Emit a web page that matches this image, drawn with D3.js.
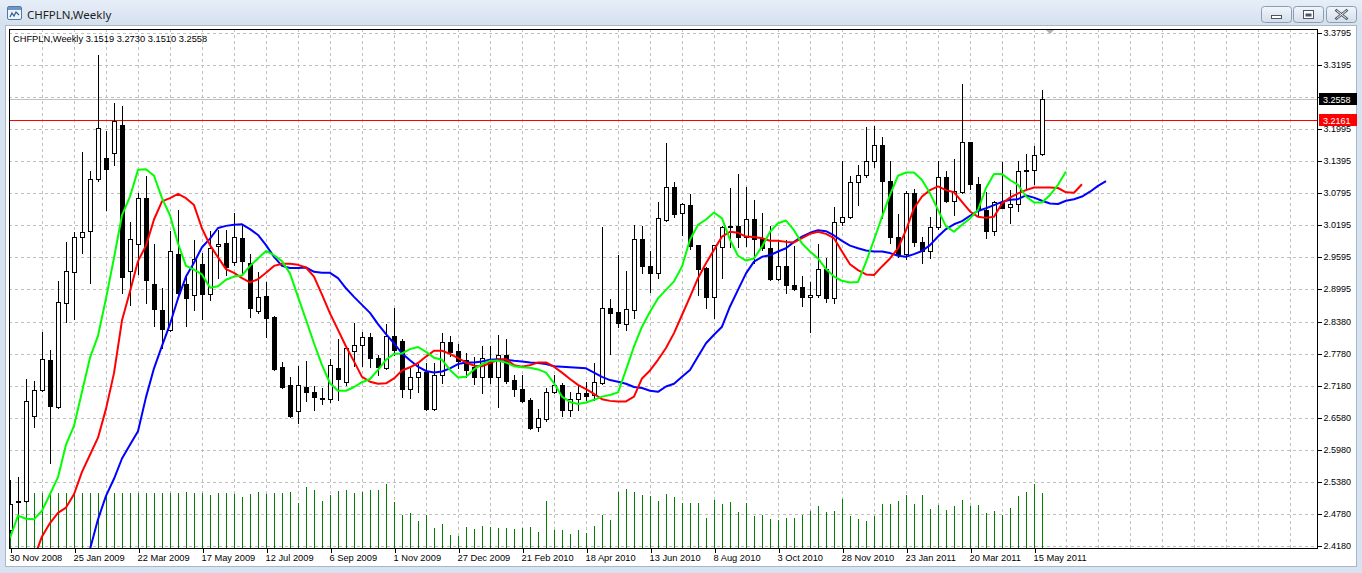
<!DOCTYPE html>
<html><head><meta charset="utf-8">
<script src="https://cdn.jsdelivr.net/npm/d3@7/dist/d3.min.js"></script>
<style>
body{margin:0;background:#d9e4f1;overflow:hidden}
svg{display:block}
text{font-family:"Liberation Sans",Arial,sans-serif}
</style>
</head><body>
<svg id="c" width="1362" height="573"></svg>
<script>
// ---------------- DATA ----------------
const symbolTitle = "CHFPLN,Weekly";
const headerValues = ["3.1519", "3.2730", "3.1510", "3.2558"];
const dateLabels = ["30 Nov 2008","25 Jan 2009","22 Mar 2009","17 May 2009","12 Jul 2009","6 Sep 2009","1 Nov 2009","27 Dec 2009","21 Feb 2010","18 Apr 2010","13 Jun 2010","8 Aug 2010","3 Oct 2010","28 Nov 2010","23 Jan 2011","20 Mar 2011","15 May 2011"];
const priceTicks = ["3.3795","3.3195","3.2595","3.1995","3.1395","3.0795","3.0195","2.9595","2.8995","2.8380","2.7780","2.7180","2.6580","2.5980","2.5380","2.4780","2.4180"];
const bidPrice = 3.2558;
const redLinePrice = 3.2161;

const open = [2.448,2.502,2.503,2.662,2.711,2.767,2.678,2.874,2.931,2.998,
3.009,3.106,3.145,3.154,3.207,2.933,2.984,3.071,2.909,2.860,
2.823,2.965,2.909,2.888,2.946,2.890,2.980,2.985,2.950,2.995,
2.948,2.859,2.886,2.848,2.753,2.720,2.671,2.716,2.707,2.695,
2.694,2.751,2.726,2.784,2.794,2.809,2.770,2.752,2.812,2.802,
2.712,2.734,2.745,2.675,2.738,2.801,2.783,2.767,2.754,2.735,
2.767,2.735,2.776,2.729,2.712,2.692,2.641,2.656,2.707,2.720,
2.672,2.693,2.705,2.701,2.724,2.864,2.856,2.834,2.860,2.994,
2.942,2.929,3.029,3.090,3.042,3.057,2.982,2.939,2.884,2.979,
3.017,3.017,2.997,3.030,2.993,2.976,2.919,2.942,2.907,2.903,
2.885,2.889,2.937,2.882,3.025,3.035,3.101,3.113,3.140,3.169,
3.103,2.998,2.965,3.079,2.987,2.970,3.015,3.109,3.065,3.082,
3.175,3.097,3.048,3.009,3.062,3.053,3.059,3.120,3.123,3.1519];
const high = [2.541,2.547,2.731,2.727,2.820,2.785,2.914,2.987,3.006,3.156,
3.121,3.338,3.196,3.249,3.242,3.025,3.080,3.112,2.984,2.901,
3.009,3.048,2.927,2.992,2.968,3.009,3.010,3.010,3.042,3.021,
2.965,2.932,2.912,2.849,2.762,2.735,2.756,2.764,2.717,2.714,
2.768,2.806,2.792,2.836,2.820,2.818,2.776,2.834,2.864,2.806,
2.751,2.759,2.761,2.761,2.817,2.812,2.797,2.779,2.773,2.792,
2.792,2.814,2.806,2.739,2.739,2.695,2.675,2.715,2.739,2.724,
2.707,2.717,2.725,2.761,3.015,2.881,2.964,2.934,3.020,3.018,
2.971,3.062,3.174,3.101,3.060,3.078,2.983,2.940,2.983,3.018,
3.089,3.115,3.090,3.067,3.042,3.017,2.992,2.992,2.980,2.924,
2.912,2.984,2.958,3.054,3.140,3.112,3.132,3.204,3.205,3.185,
3.140,3.040,3.083,3.087,2.998,3.035,3.140,3.121,3.143,3.284,
3.176,3.110,3.082,3.065,3.137,3.085,3.140,3.153,3.168,3.2730];
const low = [2.444,2.480,2.500,2.641,2.709,2.574,2.676,2.837,2.844,2.968,
2.911,3.102,3.048,3.133,2.892,2.869,2.927,2.874,2.831,2.790,
2.821,2.882,2.830,2.860,2.843,2.879,2.920,2.926,2.945,2.926,
2.848,2.855,2.810,2.747,2.714,2.659,2.649,2.689,2.673,2.684,
2.687,2.692,2.720,2.756,2.756,2.754,2.739,2.749,2.776,2.698,
2.695,2.707,2.672,2.673,2.724,2.775,2.751,2.735,2.722,2.705,
2.724,2.679,2.723,2.700,2.687,2.637,2.634,2.653,2.704,2.661,
2.662,2.672,2.692,2.692,2.722,2.777,2.828,2.823,2.845,2.930,
2.895,2.920,3.028,3.034,3.000,2.975,2.889,2.865,2.845,2.921,
2.979,2.979,2.980,2.948,2.973,2.917,2.917,2.893,2.898,2.867,
2.820,2.884,2.876,2.873,3.020,3.032,3.057,3.110,3.129,3.032,
2.985,2.960,2.956,2.981,2.948,2.958,3.013,3.063,3.038,3.079,
3.087,3.038,2.995,3.000,3.051,3.024,3.046,3.089,3.097,3.1510];
const close = [2.497,2.500,2.689,2.711,2.769,2.681,2.876,2.934,2.997,3.006,
3.106,3.201,3.125,3.214,2.922,2.993,3.071,2.916,2.863,2.825,
2.970,2.893,2.882,2.955,2.890,2.976,2.984,2.940,2.997,2.952,
2.864,2.884,2.846,2.750,2.716,2.662,2.720,2.707,2.698,2.693,
2.757,2.731,2.789,2.794,2.809,2.770,2.753,2.811,2.785,2.712,
2.734,2.744,2.675,2.739,2.800,2.782,2.765,2.747,2.735,2.770,
2.735,2.776,2.728,2.712,2.690,2.640,2.658,2.707,2.720,2.672,
2.693,2.704,2.700,2.725,2.864,2.855,2.836,2.862,2.994,2.942,
2.929,3.032,3.090,3.040,3.059,2.981,2.938,2.884,2.982,3.015,
3.015,2.997,3.030,2.993,2.976,2.919,2.942,2.907,2.900,2.884,
2.889,2.937,2.882,3.025,3.035,3.101,3.113,3.140,3.169,3.103,
2.998,2.965,3.079,2.987,2.970,3.015,3.109,3.065,3.084,3.175,
3.097,3.048,3.009,3.062,3.052,3.059,3.120,3.123,3.150,3.2558];
const volume = [5550,5550,5550,5550,5550,5550,5550,5550,5550,5550,
5550,5550,5550,5550,5550,5550,5550,5550,5550,5550,
5550,5550,5600,5550,5550,5300,5470,5470,5400,5070,
5400,5570,5400,5470,5470,5570,4470,6070,5800,4700,
5300,5730,5800,5530,5630,5800,5800,6370,4600,3300,
3470,2700,3300,1970,2400,1300,1200,2070,1870,2200,
2070,1970,1970,1870,1970,2070,1600,4700,1800,1770,
1400,1800,1500,2200,3300,2800,5570,5900,5630,5300,
5200,4700,5400,5070,4470,4470,4470,3030,4800,4400,
4570,3570,4470,3200,3300,2900,2800,3030,3030,3300,
3700,4200,3570,3700,4900,3200,2900,2700,3200,4400,
4400,4700,5300,4400,5300,3870,4300,3800,4200,4800,
4200,4300,3470,3700,3300,3970,5200,5630,6400,5530];

// Alligator lines (lips = green, teeth = red, jaw = blue); first bar index of each
const lipsStart = 0;
const lips = [2.433,2.475,2.469,2.468,2.484,2.515,2.547,2.608,2.643,2.707,
2.771,2.812,2.882,2.958,3.038,3.073,3.123,3.124,3.112,3.070,
3.038,2.985,2.943,2.936,2.927,2.902,2.905,2.917,2.923,2.925,
2.943,2.957,2.971,2.963,2.952,2.929,2.885,2.842,2.798,2.757,
2.723,2.709,2.709,2.716,2.725,2.731,2.748,2.767,2.778,2.779,
2.787,2.791,2.782,2.771,2.767,2.748,2.734,2.735,2.749,2.759,
2.765,2.765,2.762,2.755,2.753,2.752,2.749,2.743,2.723,2.698,
2.688,2.684,2.687,2.692,2.698,2.701,2.706,2.748,2.792,2.829,
2.857,2.882,2.898,2.914,2.942,2.992,3.020,3.030,3.043,3.032,
2.992,2.962,2.953,2.957,2.979,3.007,3.023,3.028,3.010,2.985,
2.970,2.957,2.937,2.923,2.915,2.912,2.913,2.950,2.992,3.035,
3.076,3.112,3.118,3.118,3.104,3.079,3.048,3.017,3.007,3.020,
3.032,3.048,3.089,3.115,3.115,3.104,3.095,3.073,3.062,3.062,
3.076,3.095,3.120];
const teethStart = 3;
const teeth = [2.395,2.436,2.461,2.480,2.490,2.515,2.557,
2.589,2.621,2.675,2.742,2.841,2.895,2.952,2.981,3.030,3.064,
3.070,3.078,3.070,3.057,3.013,2.982,2.959,2.937,2.930,2.920,
2.912,2.918,2.930,2.943,2.947,2.947,2.945,2.940,2.923,2.889,
2.854,2.823,2.792,2.764,2.735,2.726,2.722,2.723,2.732,2.747,
2.753,2.761,2.773,2.784,2.784,2.778,2.770,2.762,2.756,2.755,
2.761,2.767,2.768,2.757,2.754,2.757,2.762,2.762,2.754,2.743,
2.731,2.720,2.712,2.703,2.693,2.690,2.689,2.689,2.698,2.732,
2.747,2.767,2.789,2.817,2.851,2.885,2.920,2.948,2.973,2.998,
3.007,3.005,2.998,2.997,2.995,2.990,2.990,2.988,2.987,2.995,
3.003,3.007,3.003,2.995,2.970,2.946,2.935,2.927,2.926,2.942,
2.957,2.976,3.010,3.051,3.073,3.085,3.092,3.085,3.081,3.063,
3.045,3.035,3.033,3.035,3.060,3.071,3.079,3.085,3.090,3.090,
3.090,3.089,3.081,3.080,3.096];
const jawStart = 10;
const jaw = [2.412,2.468,2.512,2.544,2.582,2.608,2.633,2.697,2.751,2.793,
2.834,2.882,2.923,2.949,2.978,2.994,3.014,3.018,3.020,3.021,
3.012,3.001,2.982,2.960,2.943,2.939,2.939,2.940,2.932,2.930,
2.930,2.920,2.901,2.885,2.870,2.855,2.834,2.815,2.798,2.779,
2.766,2.754,2.746,2.743,2.745,2.751,2.759,2.762,2.762,2.764,
2.767,2.768,2.767,2.765,2.764,2.762,2.761,2.759,2.755,2.754,
2.753,2.752,2.751,2.743,2.735,2.729,2.726,2.722,2.716,2.714,
2.709,2.707,2.717,2.722,2.735,2.748,2.773,2.798,2.814,2.829,
2.867,2.898,2.929,2.951,2.960,2.963,2.970,2.976,2.988,2.998,
3.005,3.010,3.008,3.000,2.990,2.981,2.976,2.972,2.970,2.970,
2.967,2.962,2.960,2.965,2.971,2.982,2.998,3.012,3.021,3.027,
3.037,3.046,3.051,3.057,3.063,3.067,3.068,3.075,3.071,3.065,
3.060,3.059,3.065,3.068,3.073,3.082,3.093,3.102];

// ---------------- LAYOUT ----------------
const W = 1362, H = 573;
const plot = {left: 9, right: 1317, top: 29, bottom: 548};
const svg = d3.select('#c');
const defs = svg.append('defs');

// window chrome
const tb = defs.append('linearGradient').attr('id','tb').attr('x1',0).attr('y1',0).attr('x2',0).attr('y2',1);
tb.append('stop').attr('offset','0%').attr('stop-color','#e6eef8');
tb.append('stop').attr('offset','100%').attr('stop-color','#d5e1ee');
svg.append('rect').attr('width',W).attr('height',H).attr('fill','#d7e3f0');
svg.append('rect').attr('width',W).attr('height',26).attr('fill','url(#tb)');
// chart window client area
svg.append('rect').attr('x',5.5).attr('y',25.5).attr('width',1351).attr('height',541)
  .attr('fill','#ffffff').attr('stroke','#a9b7c8');

// title icon
const ic = svg.append('g').attr('transform','translate(7,6)');
ic.append('rect').attr('x',0.5).attr('y',0.5).attr('width',14).attr('height',13).attr('rx',1.5)
  .attr('fill','#eef4fb').attr('stroke','#4f79a8');
ic.append('rect').attr('x',1).attr('y',1).attr('width',13).attr('height',3).attr('fill','#6d96c4');
ic.append('path').attr('d','M3,11 L5,7 L7,10 L9,6 L12,9').attr('fill','none').attr('stroke','#2f5f96').attr('stroke-width',1.2);
svg.append('text').attr('x',27).attr('y',19).text(symbolTitle)
  .style('font-family','"Noto Sans","Open Sans",sans-serif').style('font-size','11.5px').attr('fill','#1e1e1e');

// window buttons
const btnG = defs.append('linearGradient').attr('id','bt').attr('x1',0).attr('y1',0).attr('x2',0).attr('y2',1);
btnG.append('stop').attr('offset','0%').attr('stop-color','#f2f6fb');
btnG.append('stop').attr('offset','100%').attr('stop-color','#d3dde9');
[[1261,'min'],[1293,'max'],[1326,'close']].forEach(([bx,kind])=>{
  svg.append('rect').attr('x',bx+0.5).attr('y',6.5).attr('width',30).attr('height',16).attr('rx',3)
    .attr('fill','url(#bt)').attr('stroke','#8b9db3');
  const cx = bx+15.5, cy = 14.5;
  if(kind==='min'){
    svg.append('rect').attr('x',cx-5).attr('y',cy+1).attr('width',10).attr('height',3).attr('fill','#fff').attr('stroke','#4a5563');
  } else if(kind==='max'){
    svg.append('rect').attr('x',cx-5).attr('y',cy-4).attr('width',10).attr('height',8).attr('fill','#fff').attr('stroke','#4a5563');
    svg.append('rect').attr('x',cx-3).attr('y',cy-1).attr('width',6).attr('height',3).attr('fill','#4a5563');
  } else {
    svg.append('path').attr('d',`M${cx-5},${cy-4} L${cx+5},${cy+4} M${cx+5},${cy-4} L${cx-5},${cy+4}`)
      .attr('stroke','#4a5563').attr('stroke-width',2.6).attr('stroke-linecap','square');
    svg.append('path').attr('d',`M${cx-5},${cy-4} L${cx+5},${cy+4} M${cx+5},${cy-4} L${cx-5},${cy+4}`)
      .attr('stroke','#ffffff').attr('stroke-width',1);
  }
});

// ---------------- SCALES ----------------
const lastSlot = 163;
const x = d3.scaleLinear().domain([0, lastSlot]).range([10, 10 + 8*lastSlot]);
const y = d3.scaleLinear().domain([2.4180, 3.3795]).range([546, 33]);
const v = d3.scaleLinear().domain([0, 6400]).range([plot.bottom, 484]);
const px = i => Math.round(x(i)) + 0.5;
const py = p => Math.round(y(p)) + 0.5;

defs.append('clipPath').attr('id','clip').append('rect')
  .attr('x',plot.left).attr('y',plot.top).attr('width',plot.right-plot.left).attr('height',plot.bottom-plot.top);

// grid
const grid = svg.append('g').attr('stroke','#c0c0c0').attr('stroke-dasharray','3,3').attr('shape-rendering','crispEdges');
const tickVals = priceTicks.map(Number);
grid.selectAll('.h').data(tickVals).join('line')
  .attr('x1',plot.left).attr('x2',plot.right).attr('y1',d=>py(d)).attr('y2',d=>py(d));
grid.selectAll('.v').data(d3.range(4, 161, 4)).join('line')
  .attr('x1',d=>px(d)).attr('x2',d=>px(d)).attr('y1',plot.top).attr('y2',plot.bottom);

const body = svg.append('g').attr('clip-path','url(#clip)');

// price lines
body.append('line').attr('x1',plot.left).attr('x2',plot.right).attr('y1',py(bidPrice)).attr('y2',py(bidPrice))
  .attr('stroke','#c0c0c0').attr('shape-rendering','crispEdges');
body.append('line').attr('x1',plot.left).attr('x2',plot.right).attr('y1',py(redLinePrice)).attr('y2',py(redLinePrice))
  .attr('stroke','#ff0000').attr('shape-rendering','crispEdges');

// volumes
body.append('g').selectAll('line').data(volume).join('line')
  .attr('x1',(d,i)=>px(i)).attr('x2',(d,i)=>px(i))
  .attr('y1',plot.bottom).attr('y2',d=>Math.round(v(d)))
  .attr('stroke','#007f00').attr('shape-rendering','crispEdges');

// candles
const cg = body.append('g').attr('shape-rendering','crispEdges');
const idx = d3.range(open.length);
cg.selectAll('.w').data(idx).join('line')
  .attr('x1',px).attr('x2',px)
  .attr('y1',i=>Math.round(y(high[i]))).attr('y2',i=>Math.round(y(low[i]))+1)
  .attr('stroke','#000');
cg.selectAll('.b').data(idx).join('rect')
  .attr('x',i=>Math.round(x(i))-2+0.5).attr('width',4)
  .attr('y',i=>Math.round(y(Math.max(open[i],close[i])))+0.5)
  .attr('height',i=>Math.max(0, Math.round(y(Math.min(open[i],close[i]))) - Math.round(y(Math.max(open[i],close[i])))))
  .attr('fill',i=>close[i]>=open[i] ? '#ffffff' : '#000000')
  .attr('stroke','#000');

// alligator lines
const mkLine = start => d3.line().x((d,i)=>x(start+i)).y(d=>y(d));
[[jaw,jawStart,'#0000ff'],[teeth,teethStart,'#ff0000'],[lips,lipsStart,'#00ff00']].forEach(([arr,st,col])=>{
  body.append('path').attr('d',mkLine(st)(arr)).attr('fill','none').attr('stroke',col).attr('stroke-width',2)
    .attr('stroke-linejoin','round');
});

// chart shift marker
svg.append('path').attr('d',`M${x(130)-4},${plot.top+1} L${x(130)+4},${plot.top+1} L${x(130)},${plot.top+5} Z`).attr('fill','#b0b0b0');

// frame
svg.append('rect').attr('x',plot.left+0.5).attr('y',plot.top+0.5)
  .attr('width',plot.right-plot.left).attr('height',plot.bottom-plot.top)
  .attr('fill','none').attr('stroke','#000').attr('shape-rendering','crispEdges');

// right axis
const ra = svg.append('g').attr('transform',`translate(${plot.right+0.5},0)`)
  .call(d3.axisRight(y).tickValues(tickVals).tickFormat((d,i)=>priceTicks[i]).tickSize(4).tickPadding(2));
ra.select('.domain').remove();
ra.selectAll('line').attr('stroke','#000').attr('shape-rendering','crispEdges');
ra.selectAll('text').style('font-size','9px').attr('fill','#000');

// price boxes
[[bidPrice,'#000000',headerValues[3]],[redLinePrice,'#ff0000',redLinePrice.toFixed(4)]].forEach(([p,col,lab])=>{
  const yy = Math.round(y(p));
  svg.append('rect').attr('x',plot.right+2).attr('y',yy-6).attr('width',38).attr('height',12).attr('fill',col);
  svg.append('text').attr('x',plot.right+6).attr('y',yy+3.5).text(lab)
    .style('font-size','9px').attr('fill','#fff');
});

// bottom axis
const ba = svg.append('g').attr('transform',`translate(0,${plot.bottom+0.5})`)
  .call(d3.axisBottom(x).tickValues(d3.range(0, 129, 8)).tickFormat((d,i)=>dateLabels[i]).tickSize(4).tickPadding(2));
ba.select('.domain').remove();
ba.selectAll('line').attr('stroke','#000').attr('transform','translate(0.5,0)').attr('shape-rendering','crispEdges');
ba.selectAll('text').style('font-size','9.3px').attr('text-anchor','start').attr('dx','-1').attr('fill','#000');

// header text
svg.append('text').attr('x',13).attr('y',41.5)
  .text(symbolTitle + '  ' + headerValues.join(' '))
  .style('font-size','9.3px').attr('fill','#000');
</script>
</body></html>
